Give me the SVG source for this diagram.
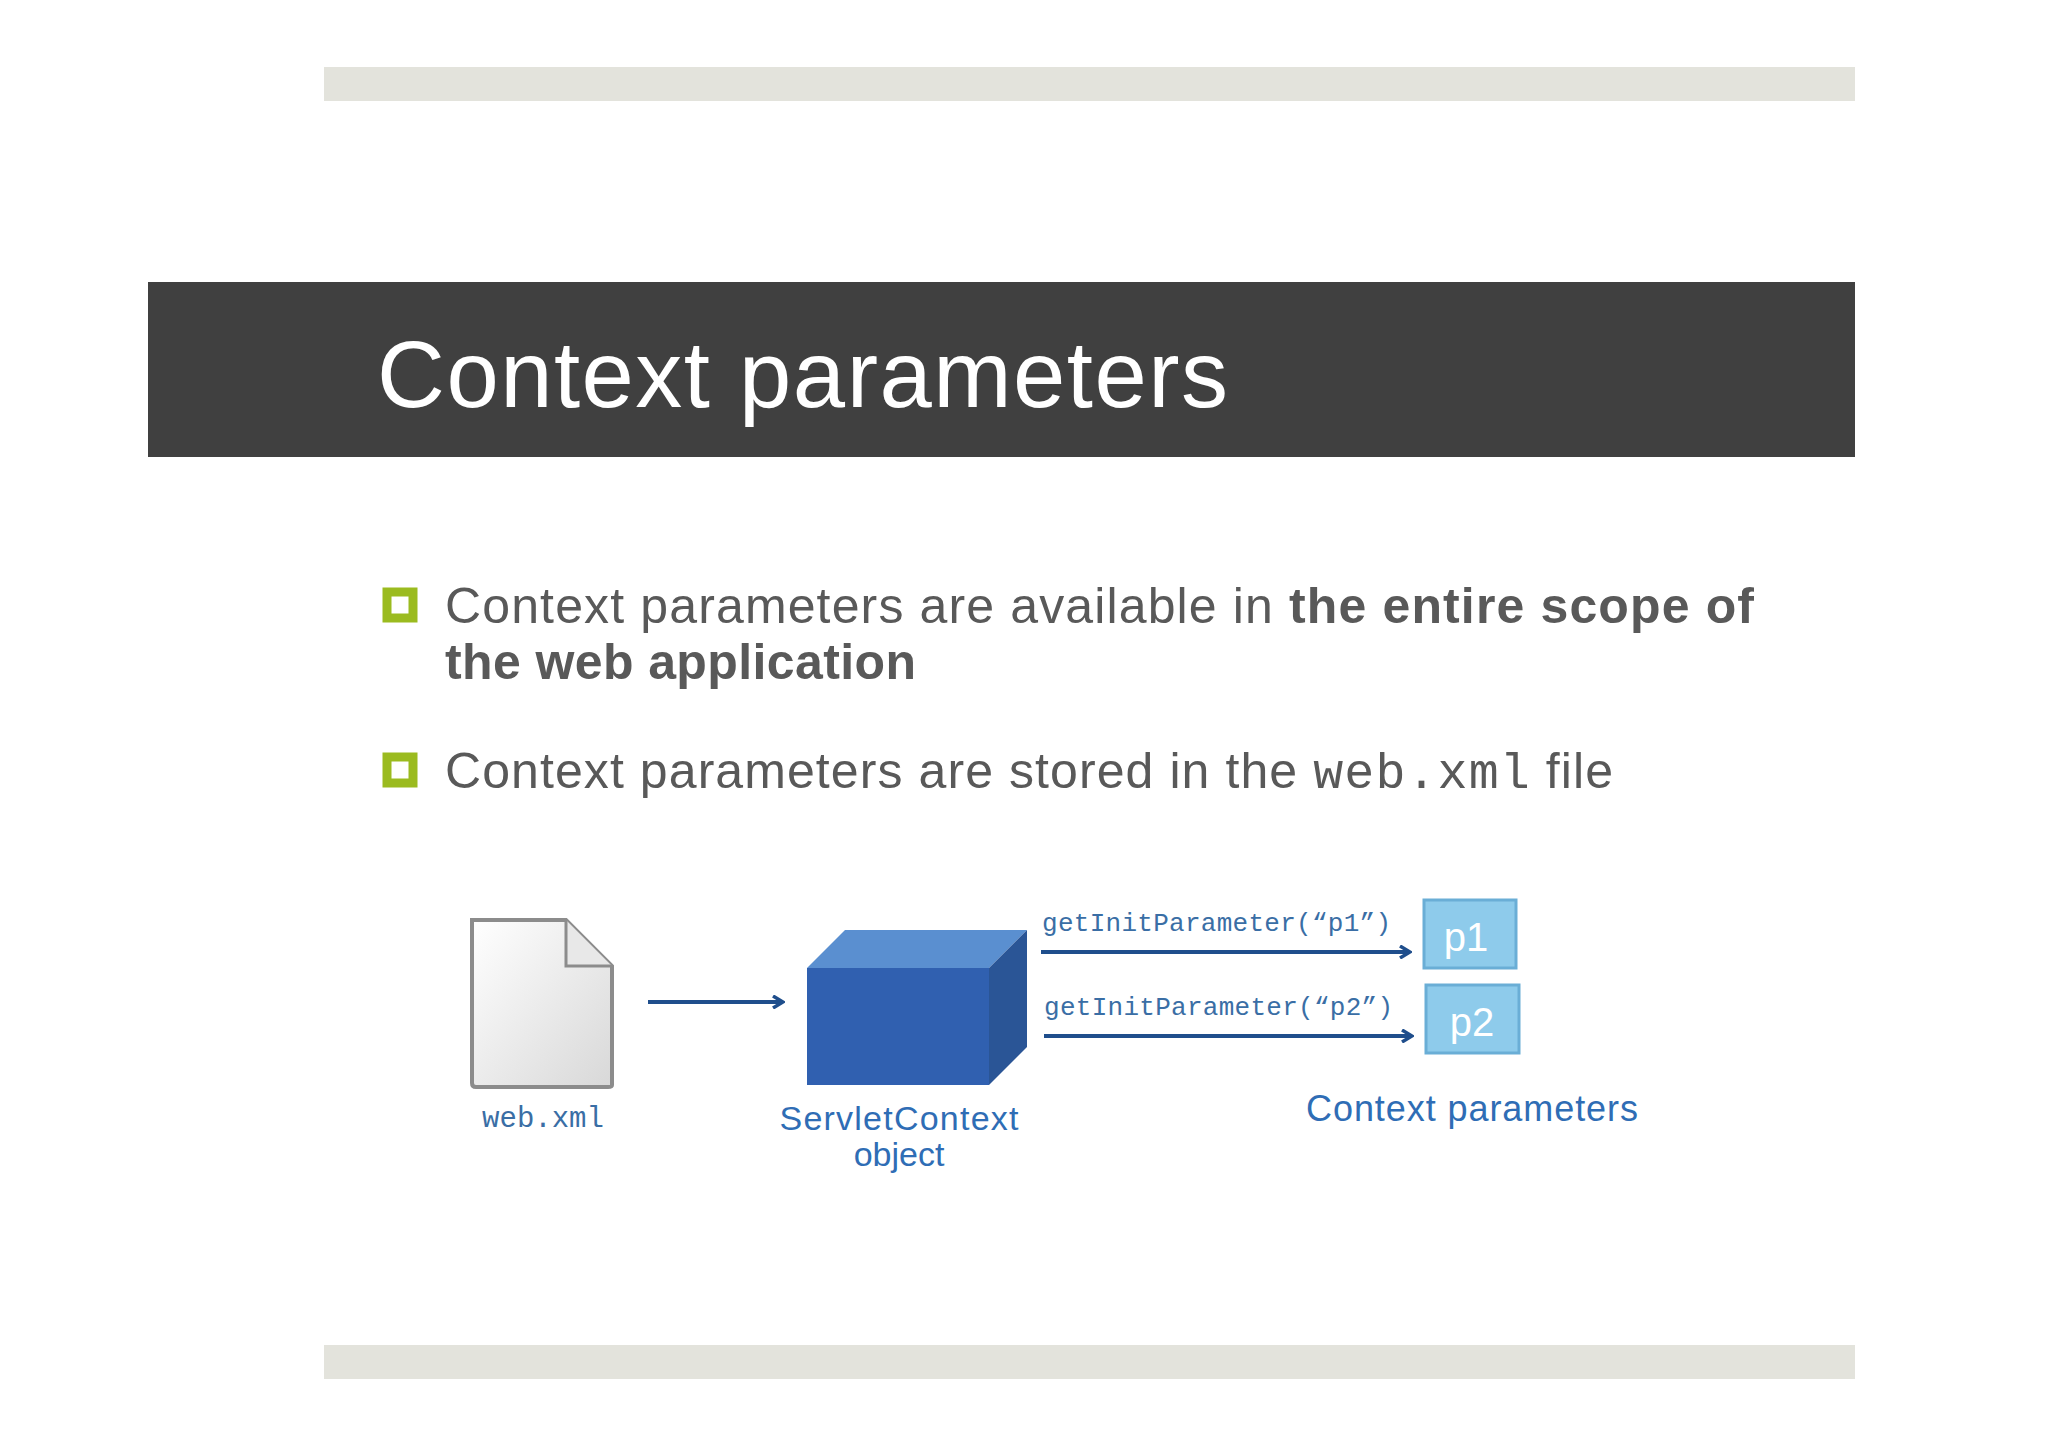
<svg xmlns="http://www.w3.org/2000/svg" width="2048" height="1447" viewBox="0 0 2048 1447">
<defs>
<style>
.band{fill:#e3e3dc}
.body{font-family:"Liberation Sans",Arial,sans-serif;font-size:50px;fill:#595959}
.mono{font-family:"Courier New","Liberation Mono",monospace}
.lbl{font-family:"Liberation Sans",Arial,sans-serif;fill:#2f6db5}
.conn{stroke:#1f4e8c;stroke-width:4;fill:none}
.pbox{fill:#8ecbeb;stroke:#6aaed6;stroke-width:3}
.ptxt{font-family:"Liberation Sans",Arial,sans-serif;font-size:40px;fill:#fff;text-anchor:middle}
</style>
<marker id="arr" markerWidth="14" markerHeight="14" refX="11" refY="7" orient="auto" markerUnits="userSpaceOnUse">
<path d="M2,1 L12,7 L2,13" fill="none" stroke="#1f4e8c" stroke-width="3.5"/>
</marker>
<linearGradient id="paper" x1="0" y1="0" x2="1" y2="1">
<stop offset="0" stop-color="#ffffff"/><stop offset="1" stop-color="#d8d8d8"/>
</linearGradient>
</defs>
<rect width="2048" height="1447" fill="#fff"/>
<rect class="band" x="324" y="67" width="1531" height="34"/>
<rect class="band" x="324" y="1345" width="1531" height="34"/>
<g id="title">
<rect x="148" y="282" width="1707" height="175" fill="#404040"/>
<text x="377" y="407" font-family="'Liberation Sans',Arial,sans-serif" font-size="94" fill="#fff" textLength="851" lengthAdjust="spacing">Context parameters</text>
</g>
<g id="bullets">
<rect x="387" y="592" width="26" height="26" fill="none" stroke="#9bbb1f" stroke-width="9"/>
<text class="body" x="445" y="623" textLength="1309" lengthAdjust="spacing">Context parameters are available in <tspan font-weight="bold">the entire scope of</tspan></text>
<text class="body" x="445" y="679" font-weight="bold" textLength="471" lengthAdjust="spacing">the web application</text>
<rect x="387" y="757" width="26" height="26" fill="none" stroke="#9bbb1f" stroke-width="9"/>
<text class="body" x="445" y="788" textLength="1168" lengthAdjust="spacing">Context parameters are stored in the <tspan class="mono">web.xml</tspan> file</text>
</g>
<g id="webxml">
<path d="M472,920 L566,920 L612,966 L612,1085 Q612,1087 608,1087 L476,1087 Q472,1087 472,1083 Z" fill="url(#paper)" stroke="#8c8c8c" stroke-width="4"/>
<path d="M566,920 L566,966 L612,966" fill="#e8e8e8" stroke="#8c8c8c" stroke-width="3"/>
<text class="mono" x="543" y="1127" font-size="29" fill="#3a6ea5" text-anchor="middle">web.xml</text>
</g>
<g id="servletcontext">
<polygon points="807,968 845,930 1027,930 989,968" fill="#5a8fd0"/>
<polygon points="989,968 1027,930 1027,1047 989,1085" fill="#2a5596"/>
<rect x="807" y="968" width="182" height="117" fill="#3060b0"/>
<text class="lbl" x="899" y="1130" font-size="34" text-anchor="middle" textLength="239" lengthAdjust="spacing">ServletContext</text>
<text class="lbl" x="899" y="1166" font-size="34" text-anchor="middle">object</text>
</g>
<g id="p1"><rect class="pbox" x="1424" y="900" width="92" height="68"/><text class="ptxt" x="1466" y="951">p1</text></g>
<g id="p2"><rect class="pbox" x="1426" y="985" width="93" height="68"/><text class="ptxt" x="1472" y="1036">p2</text></g>
<text class="lbl" x="1472" y="1121" font-size="36" text-anchor="middle" textLength="332" lengthAdjust="spacing">Context parameters</text>
<g id="connectors">
<line class="conn" x1="648" y1="1002" x2="782" y2="1002" marker-end="url(#arr)"/>
<line class="conn" x1="1041" y1="952" x2="1409" y2="952" marker-end="url(#arr)"/>
<line class="conn" x1="1044" y1="1036" x2="1411" y2="1036" marker-end="url(#arr)"/>
<text class="mono" x="1042" y="931" font-size="26" fill="#3a6ea5" textLength="349" lengthAdjust="spacing">getInitParameter(“p1”)</text>
<text class="mono" x="1044" y="1015" font-size="26" fill="#3a6ea5" textLength="349" lengthAdjust="spacing">getInitParameter(“p2”)</text>
</g>
</svg>
